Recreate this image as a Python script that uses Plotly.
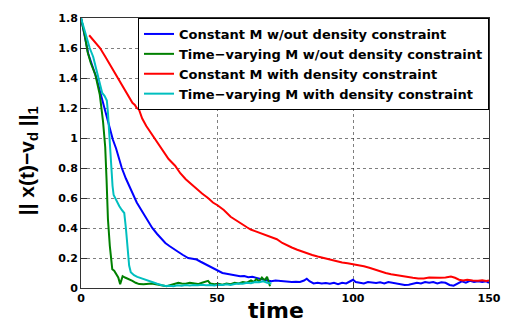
import plotly.graph_objects as go

# ---- data ----
blue_t = [0, 1.5, 2.7, 4, 5.7, 7, 8.1, 9.3, 10.5, 11.7, 12.9, 14, 15, 16.5, 17.7, 18.9, 20.5, 22.5,
          24.3, 26.2, 28, 29.5, 31, 32.5, 34, 35.8, 37.5, 39.4, 41, 42.5, 44, 45.5, 47.3, 49, 50.5,
          52, 53.5, 55, 57, 58.5, 60, 61.5, 63, 64.5, 66, 67.5, 69, 70, 71.5, 73, 74.5, 76, 77.5,
          79, 80.5, 82, 83, 84, 85.5, 87, 88.5, 90, 91.5, 93, 94.5, 96, 97.5, 99, 100, 101, 102.5,
          104, 105.5, 107, 108.5, 110, 111.5, 113, 114.5, 116, 117.5, 119, 120.5, 122, 123.5, 125,
          126.5, 128, 129.5, 131, 132.5, 134, 135.5, 137, 138.5, 140, 141.5, 143, 144.5, 146,
          147.5, 149, 150]
blue_v = [1.80, 1.66, 1.56, 1.49, 1.40, 1.31, 1.235, 1.15, 1.06, 0.99, 0.93, 0.86, 0.80, 0.73, 0.68,
          0.63, 0.57, 0.51, 0.455, 0.40, 0.36, 0.33, 0.30, 0.28, 0.26, 0.24, 0.22, 0.20, 0.195, 0.19,
          0.175, 0.16, 0.145, 0.125, 0.11, 0.10, 0.095, 0.09, 0.085, 0.078, 0.08, 0.072, 0.075,
          0.065, 0.06, 0.055, 0.05, 0.045, 0.05, 0.048, 0.042, 0.045, 0.04, 0.042, 0.04, 0.05,
          0.062, 0.045, 0.03, 0.035, 0.03, 0.033, 0.028, 0.035, 0.025, 0.035, 0.03, 0.045, 0.055,
          0.04, 0.035, 0.03, 0.04, 0.035, 0.033, 0.038, 0.03, 0.04, 0.035, 0.03, 0.025, 0.02,
          0.022, 0.03, 0.035, 0.03, 0.04, 0.035, 0.04, 0.03, 0.038, 0.035, 0.02, 0.015, 0.03,
          0.045, 0.035, 0.048, 0.04, 0.045, 0.04, 0.045, 0.035]

green_t = [0, 1.45, 2.4, 3.6, 5.3, 6.3, 6.9, 8.1, 8.9, 9.4, 9.9, 10.6, 11.1, 11.5, 12.2, 12.9,
           13.7, 14.4, 15.3, 16.2, 17.1, 18.0, 18.9, 20.1, 21.4, 23, 24.5, 26, 27.5, 29, 30.5, 31.5,
           33, 34.5, 35.8, 37, 38.5, 40, 41.5, 43, 44.5, 45.5, 46.7, 47.5, 49, 50.5, 52, 53.5, 55,
           56.5, 58, 59.5, 61, 62.5, 63.5, 64.5, 65.5, 66.5, 67.5, 68.4, 69.5]
green_v = [1.80, 1.68, 1.575, 1.50, 1.42, 1.345, 1.29, 1.11, 0.94, 0.72, 0.46, 0.28, 0.16, 0.125,
           0.115, 0.097, 0.07, 0.026, 0.079, 0.07, 0.064, 0.055, 0.048, 0.035, 0.026, 0.025, 0.03,
           0.03, 0.025, 0.02, 0.015, 0.012, 0.02, 0.03, 0.035, 0.03, 0.028, 0.035, 0.03, 0.026,
           0.035, 0.04, 0.048, 0.03, 0.025, 0.028, 0.022, 0.03, 0.025, 0.035, 0.03, 0.04, 0.035,
           0.05, 0.04, 0.06, 0.045, 0.07, 0.05, 0.074, 0.012]

red_t = [3, 5, 7, 9, 11, 13, 15, 17, 18.9, 19.8, 20.5, 21.3, 22.5, 24, 25.5, 27.4, 29, 30.5, 32.2,
         34.6, 36.5, 38.5, 40.6, 42.5, 44.5, 46.7, 48.5, 50.3, 52.5, 55, 57, 59, 61, 62.4, 64.8,
         66.5, 68.4, 70.5, 72, 74, 75.6, 77.5, 79.5, 81, 82.9, 85, 87, 89, 91, 93.7, 96, 98, 100,
         102, 104, 106, 108, 110, 112, 114, 115.5, 117.5, 120, 122, 124, 126, 128, 130, 132, 134,
         136, 137.5, 139, 140.5, 142, 144, 146, 147.5, 149, 150]
red_v = [1.685, 1.64, 1.60, 1.54, 1.48, 1.42, 1.36, 1.30, 1.235, 1.22, 1.20, 1.19, 1.13, 1.08, 1.04,
         0.99, 0.94, 0.90, 0.86, 0.815, 0.765, 0.725, 0.69, 0.66, 0.63, 0.60, 0.57, 0.55, 0.52, 0.475,
         0.45, 0.43, 0.405, 0.39, 0.375, 0.36, 0.35, 0.335, 0.325, 0.30, 0.285, 0.27, 0.255, 0.245,
         0.23, 0.22, 0.21, 0.20, 0.19, 0.18, 0.17, 0.165, 0.16, 0.152, 0.145, 0.135, 0.122, 0.11,
         0.10, 0.092, 0.087, 0.082, 0.075, 0.068, 0.064, 0.064, 0.07, 0.068, 0.068, 0.07, 0.076,
         0.068, 0.055, 0.05, 0.055, 0.05, 0.048, 0.052, 0.046, 0.05]

cyan_t = [0, 1.5, 3.2, 4.5, 5.7, 6.9, 7.8, 8.7, 9.5, 9.9, 10.5, 11.1, 11.6, 12, 13, 14.1, 15, 15.9,
          16.5, 17.1, 17.7, 18.3, 19.5, 20.7, 22, 23.5, 25, 26.5, 28, 29.5, 31, 32.5, 34, 35.5, 37,
          38.5, 40, 41.5, 43, 44.5, 46, 47.5, 49, 50.5, 52, 53.5, 55, 56.5, 58, 59.5, 61, 62.5, 64,
          65.5, 67, 68.5, 70]
cyan_v = [1.80, 1.70, 1.60, 1.54, 1.45, 1.37, 1.30, 1.28, 1.25, 1.17, 0.97, 0.81, 0.68, 0.62, 0.58,
          0.545, 0.52, 0.50, 0.40, 0.28, 0.15, 0.105, 0.085, 0.074, 0.065, 0.055, 0.045, 0.035,
          0.028, 0.02, 0.013, 0.015, 0.012, 0.018, 0.015, 0.02, 0.016, 0.02, 0.018, 0.022, 0.018,
          0.02, 0.017, 0.022, 0.02, 0.025, 0.02, 0.026, 0.03, 0.028, 0.035, 0.032, 0.04, 0.038,
          0.045, 0.035, 0.03]

names = ["Constant M w/out density constraint",
         "Time−varying M w/out density constraint",
         "Constant M with density constraint",
         "Time−varying M with density constraint"]
colors = ["#0000ff", "#008000", "#ff0000", "#00bfbf"]

x_ticks = [0, 50, 100, 150]
y_ticks = [0, 0.2, 0.4, 0.6, 0.8, 1.0, 1.2, 1.4, 1.6, 1.8]
y_tick_text = ["0", "0.2", "0.4", "0.6", "0.8", "1", "1.2", "1.4", "1.6", "1.8"]

series = [(blue_t, blue_v), (green_t, green_v), (red_t, red_v), (cyan_t, cyan_v)]

fig = go.Figure()
for (t, v), n, c in zip(series, names, colors):
    fig.add_trace(go.Scatter(x=t, y=v, mode="lines", name=n,
                             line=dict(color=c, width=2)))

tickfont = dict(family="DejaVu Sans", size=11, color="black", weight="bold")
axis_common = dict(ticks="inside", ticklen=6, tickcolor="#333",
                   showline=True, linecolor="#333", linewidth=1, mirror="ticks",
                   showgrid=True, gridcolor="rgba(0,0,0,0.5)", griddash="dot", gridwidth=1,
                   zeroline=False, tickfont=tickfont)
fig.update_layout(
    width=513, height=325,
    margin=dict(l=81, r=18, t=14, b=37),
    paper_bgcolor="white", plot_bgcolor="white",
    showlegend=True,
    legend=dict(x=1, y=1, xanchor="right", yanchor="top",
                bgcolor="white", bordercolor="black", borderwidth=1,
                font=dict(family="DejaVu Sans", size=13, color="black", weight="bold"),
                tracegroupgap=0, itemwidth=30),
    xaxis=dict(range=[0, 150], tickvals=x_ticks, **axis_common),
    yaxis=dict(range=[0, 1.8], tickvals=y_ticks, ticktext=y_tick_text, **axis_common),
    annotations=[
        dict(text="time", x=0.477, y=-0.084, xref="paper", yref="paper",
             xanchor="center", yanchor="middle", showarrow=False,
             font=dict(family="DejaVu Sans", size=22, color="black", weight="bold")),
        dict(text="|| x(t)−v<sub>d</sub> ||<sub>1</sub>", x=-0.13, y=0.473,
             xref="paper", yref="paper", xanchor="center", yanchor="middle",
             textangle=-90, showarrow=False,
             font=dict(family="Liberation Sans", size=21, color="black", weight="bold")),
    ],
)

fig.write_html("out.html")
